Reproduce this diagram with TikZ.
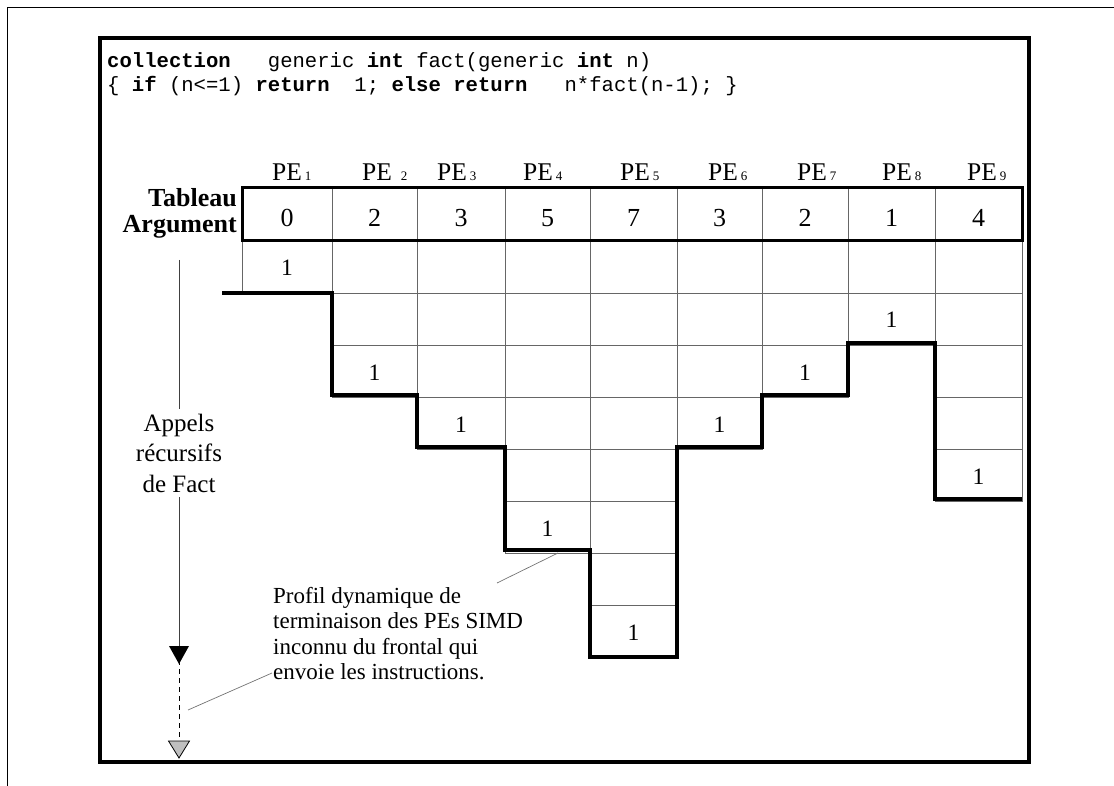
\documentclass[tikz,border=0pt]{standalone}
\usepackage{fontspec}
\setmainfont{Liberation Serif}
\newfontfamily\codefont{Liberation Mono}
\begin{document}
\begin{tikzpicture}[x=1pt,y=-1pt,
  cellbox/.style={draw=black!60, line width=0.9pt},
  profile/.style={draw=black, line width=4.5pt, line join=miter},
  codeword/.style={anchor=base west, inner sep=0pt, font=\codefont\fontsize{20.6}{24}\selectfont},
  pelabel/.style={anchor=base west, inner sep=0pt, font=\fontsize{25.5}{28}\selectfont},
  numtext/.style={anchor=base, inner sep=0pt, font=\fontsize{26}{28}\selectfont},
  onetext/.style={anchor=base, inner sep=0pt, font=\fontsize{23.5}{26}\selectfont},
  sidetext/.style={anchor=base east, inner sep=0pt, font=\bfseries\fontsize{26}{28}\selectfont},
  leader/.style={draw=black!55, line width=0.7pt}]
\useasboundingbox (0,0) rectangle (1114,786);
% page edges and frame
\draw[line width=1pt] (7,786) -- (7,8) -- (1114,8);
\draw[line width=4pt] (100,38) rectangle (1029,762);
% code
\node[codeword] (code1) at (107,68) {\textbf{collection}\ \ \ generic \textbf{int} fact(generic \textbf{int} n)};
\node[codeword] (code2) at (107,92) {\{ \textbf{if} (n<=1) \textbf{return}\ \ 1; \textbf{else} \textbf{return}\ \ \ n*fact(n-1); \}};
% recursion cells
\foreach \xa/\xb/\k [count=\i] in {242/332/1, 332/417/3, 417/505/4, 505/590/6, 590/677/8, 677/762/4, 762/848/3, 848/935/2, 935/1022/5}{
  \foreach \r in {1,...,\k}{
    \draw[cellbox] (\xa,{241+(\r-1)*52}) rectangle (\xb,{241+\r*52});
  }
  \node[onetext] (one\i) at ({(\xa+\xb)/2},{241+(\k-0.5)*52+9}) {1};
}
% header row
\foreach \xa/\xb/\v [count=\i] in {242/332/0, 332/417/2, 417/505/3, 505/590/5, 590/677/7, 677/762/3, 762/848/2, 848/935/1, 935/1022/4}{
  \draw[cellbox] (\xa,188) rectangle (\xb,241);
  \node[numtext] (val\i) at ({(\xa+\xb)/2},227) {\v};
}
\draw[line width=3pt] (242,188) rectangle (1022,241);
% PE labels
\foreach \px/\gap [count=\i] in {272/3, 362/9, 437/3, 523/3, 620/3, 708/3, 797/3, 882/3, 967/3}{
  \node[pelabel] (pe\i) at (\px,181) {PE\hspace{\gap pt}{\fontsize{13}{14}\selectfont\i}};
}
% left labels
\node[sidetext] (tab1) at (237,207) {Tableau};
\node[sidetext] (tab2) at (237,233) {Argument};
% profile
\draw[profile] (222,293) -- (332,293) -- (332,395) -- (417,395) -- (417,447) -- (505,447) -- (505,550) -- (590,550) -- (590,657) -- (677,657) -- (677,447) -- (762,447) -- (762,395) -- (848,395) -- (848,343) -- (935,343) -- (935,499) -- (1022,499);
% recursion arrow
\node[align=center, inner sep=5pt, font=\fontsize{25}{30.5}\selectfont] (calls) at (179,453) {Appels\\récursifs\\de Fact};
\coordinate (atop) at (179,260);
\coordinate (tipA) at (179,664);
\coordinate (baseA) at (179,646);
\coordinate (tipB) at (179,758);
\coordinate (baseB) at (179,741);
\draw[line width=0.8pt, black!75] (atop) -- (calls.north);
\draw[line width=0.8pt, black!75] (calls.south) -- (baseA);
\fill[black] ([xshift=-10pt]baseA) -- ([xshift=10pt]baseA) -- (tipA) -- cycle;
\draw[line width=0.8pt, dashed, dash pattern=on 5pt off 4pt] ([yshift=4pt]tipA) -- (baseB);
\draw[fill=black!25, line width=0.8pt] ([xshift=-10.5pt]baseB) -- ([xshift=10.5pt]baseB) -- (tipB) -- cycle;
% annotation
\node[anchor=north west, align=left, inner sep=0pt, font=\fontsize{23}{25.5}\selectfont] (note) at (273,587) {Profil dynamique de\\terminaison des PEs SIMD\\inconnu du frontal qui\\envoie les instructions.};
\coordinate (noteA) at (497,583);
\coordinate (profA) at (558,553);
\coordinate (noteB) at (272,673);
\coordinate (dashB) at (188,710);
\draw[leader] (noteA) -- (profA);
\draw[leader] (noteB) -- (dashB);
\end{tikzpicture}
\end{document}
